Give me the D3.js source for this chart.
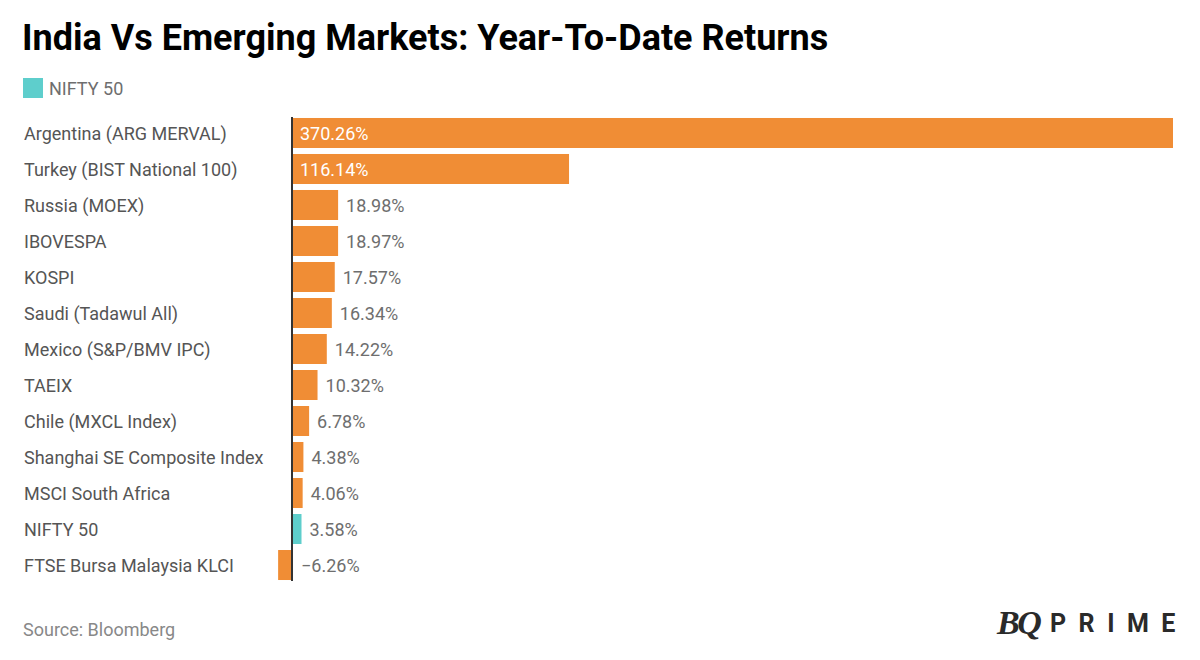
<!DOCTYPE html>
<html><head><meta charset="utf-8">
<script src="https://cdn.jsdelivr.net/npm/d3@7"></script>
<style>html,body{margin:0;padding:0;background:#fff;}svg{display:block;}</style>
</head><body>
<svg id="c" width="1200" height="660"></svg>
<script>
const categories = ["Argentina (ARG MERVAL)","Turkey (BIST National 100)","Russia (MOEX)","IBOVESPA","KOSPI","Saudi (Tadawul All)","Mexico (S&P/BMV IPC)","TAEIX","Chile (MXCL Index)","Shanghai SE Composite Index","MSCI South Africa","NIFTY 50","FTSE Bursa Malaysia KLCI"];
const values = [370.26,116.14,18.98,18.97,17.57,16.34,14.22,10.32,6.78,4.38,4.06,3.58,-6.26];
const highlight = "NIFTY 50";
const title = "India Vs Emerging Markets: Year-To-Date Returns";
const source = "Source: Bloomberg";

const orange = "#F08D35", teal = "#5ECECC";
const svg = d3.select("#c");
const font = "Roboto, 'Noto Sans', sans-serif";

svg.append("text").attr("x",22).attr("y",50).attr("font-family",font).attr("font-weight",700)
  .attr("font-size",36).attr("fill","#000").text(title);

svg.append("rect").attr("x",23).attr("y",78).attr("width",20).attr("height",20).attr("fill",teal);
svg.append("text").attr("x",49).attr("y",95).attr("font-family",font).attr("font-size",18).attr("fill","#6e6e6e").text(highlight);

const x = d3.scaleLinear().domain([0,370.26]).range([293,1173]);
const y = d3.scaleBand().domain(categories).range([115,583]).paddingInner(0.1667).paddingOuter(0.083);

const data = categories.map((c,i)=>({c, v: values[i]}));

svg.selectAll("text.cat").data(data).join("text").attr("class","cat")
  .attr("x",24).attr("y",d=>y(d.c)+y.bandwidth()/2+7)
  .attr("font-family",font).attr("font-size",18).attr("fill","#555").text(d=>d.c);

svg.selectAll("rect.bar").data(data).join("rect").attr("class","bar")
  .attr("x",d=>Math.min(x(0),x(d.v))).attr("y",d=>y(d.c))
  .attr("width",d=>Math.abs(x(d.v)-x(0))).attr("height",y.bandwidth())
  .attr("fill",d=>d.c===highlight?teal:orange);

const fmt = v => (v<0?"\u2212":"") + Math.abs(v).toFixed(2) + "%";
svg.selectAll("text.val").data(data).join("text").attr("class","val")
  .attr("x",d=> d.v>50 ? x(0)+7 : (d.v<0 ? x(0)+8 : x(d.v)+8))
  .attr("y",d=>y(d.c)+y.bandwidth()/2+7)
  .attr("font-family",font).attr("font-size",18)
  .attr("fill",d=>d.v>50?"#fff":"#6e6e6e").text(d=>fmt(d.v));

svg.append("line").attr("x1",x(0)-1).attr("x2",x(0)-1).attr("y1",117).attr("y2",581)
  .attr("stroke","#333").attr("stroke-width",2);

svg.append("text").attr("x",23).attr("y",636).attr("font-family",font).attr("font-size",18).attr("fill","#888").text(source);

const logo = svg.append("g");
logo.append("text").attr("x",997).attr("y",634).attr("font-family","'Liberation Serif', 'DejaVu Serif', serif")
  .attr("font-weight",700).attr("font-style","italic").attr("font-size",34).attr("fill","#2a2a2a").attr("letter-spacing",-2.5).text("BQ");
logo.append("text").attr("x",1050).attr("y",632).attr("font-family",font).attr("font-weight",700)
  .attr("font-size",25).attr("fill","#2a2a2a").attr("letter-spacing",12.5).text("PRIME");
</script>
</body></html>
